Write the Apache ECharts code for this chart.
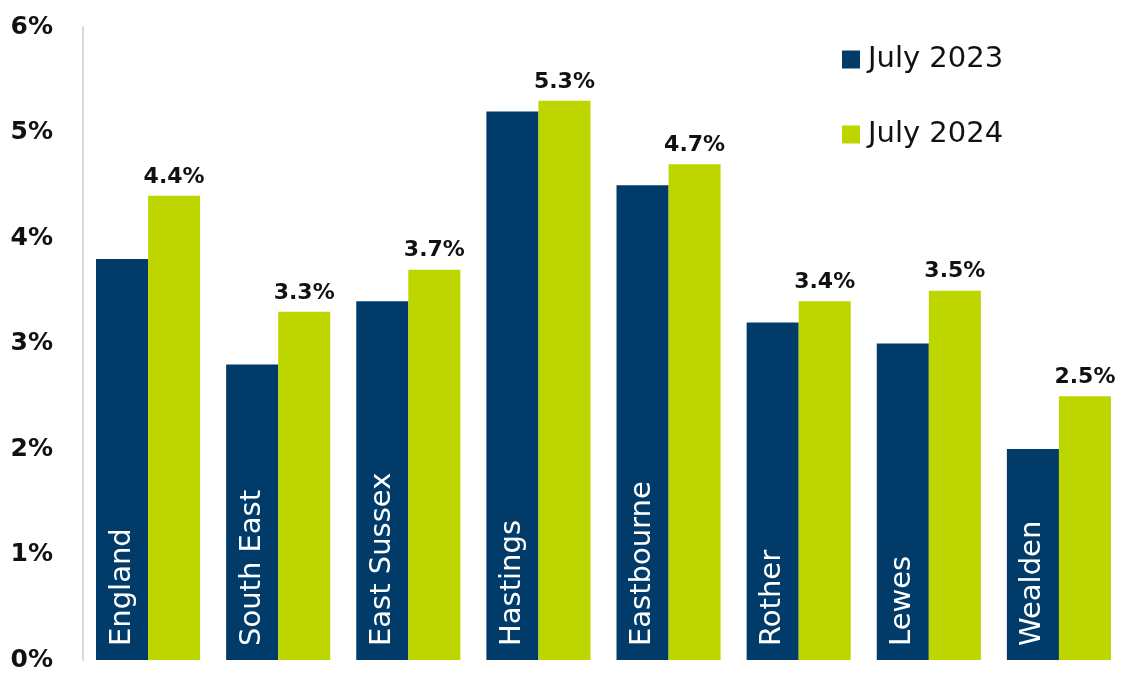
<!DOCTYPE html>
<html>
<head>
<meta charset="utf-8">
<script src="https://cdn.jsdelivr.net/npm/echarts@6/dist/echarts.min.js"></script>
<style>
html,body{margin:0;padding:0;background:#fff;}
#chart{width:1124px;height:675px;}
</style>
</head>
<body>
<div id="chart"></div>
<script>
const categories = ['England','South East','East Sussex','Hastings','Eastbourne','Rother','Lewes','Wealden'];
const july2023 = [3.8, 2.8, 3.4, 5.2, 4.5, 3.2, 3.0, 2.0];
const july2024 = [4.4, 3.3, 3.7, 5.3, 4.7, 3.4, 3.5, 2.5];
const seriesNames = ['July 2023', 'July 2024'];
const yTicks = [0, 1, 2, 3, 4, 5, 6];

const FONT = '"DejaVu Sans", Verdana, sans-serif';
const chart = echarts.init(document.getElementById('chart'), null, {renderer: 'canvas'});
chart.setOption({
  animation: false,
  textStyle: {fontFamily: FONT},
  grid: {left: 83, width: 1042, top: 27, bottom: 15, containLabel: false},
  legend: {
    data: seriesNames,
    orient: 'vertical',
    left: 837,
    top: 40,
    icon: 'rect',
    itemWidth: 18,
    itemHeight: 18,
    itemGap: 46,
    textStyle: {fontFamily: FONT, fontSize: 29, color: '#111', padding: [0, 0, 0, 3]}
  },
  xAxis: {
    type: 'category',
    data: categories,
    axisLine: {show: false},
    axisTick: {show: false},
    axisLabel: {show: false}
  },
  yAxis: {
    type: 'value',
    min: yTicks[0],
    max: yTicks[yTicks.length - 1],
    interval: 1,
    splitLine: {show: false},
    axisTick: {show: false},
    axisLine: {show: true, lineStyle: {color: '#d9d9d9', width: 2}},
    axisLabel: {
      formatter: v => v + '%',
      fontFamily: FONT,
      fontSize: 25,
      fontWeight: 'bold',
      color: '#111',
      margin: 30
    }
  },
  series: [
    {
      name: seriesNames[0],
      type: 'bar',
      data: july2023,
      barGap: '0%',
      barCategoryGap: '20%',
      itemStyle: {color: '#003b6a'},
      label: {
        show: true,
        position: 'insideBottom',
        rotate: 90,
        align: 'left',
        verticalAlign: 'middle',
        distance: 14,
        formatter: p => p.name,
        color: '#fff',
        fontFamily: FONT,
        fontSize: 29
      }
    },
    {
      name: seriesNames[1],
      type: 'bar',
      data: july2024,
      itemStyle: {color: '#bed600'},
      label: {
        show: true,
        position: 'top',
        distance: 8,
        formatter: p => p.value.toFixed(1) + '%',
        color: '#111',
        fontFamily: FONT,
        fontSize: 22,
        fontWeight: 'bold'
      }
    }
  ]
});
</script>
</body>
</html>
